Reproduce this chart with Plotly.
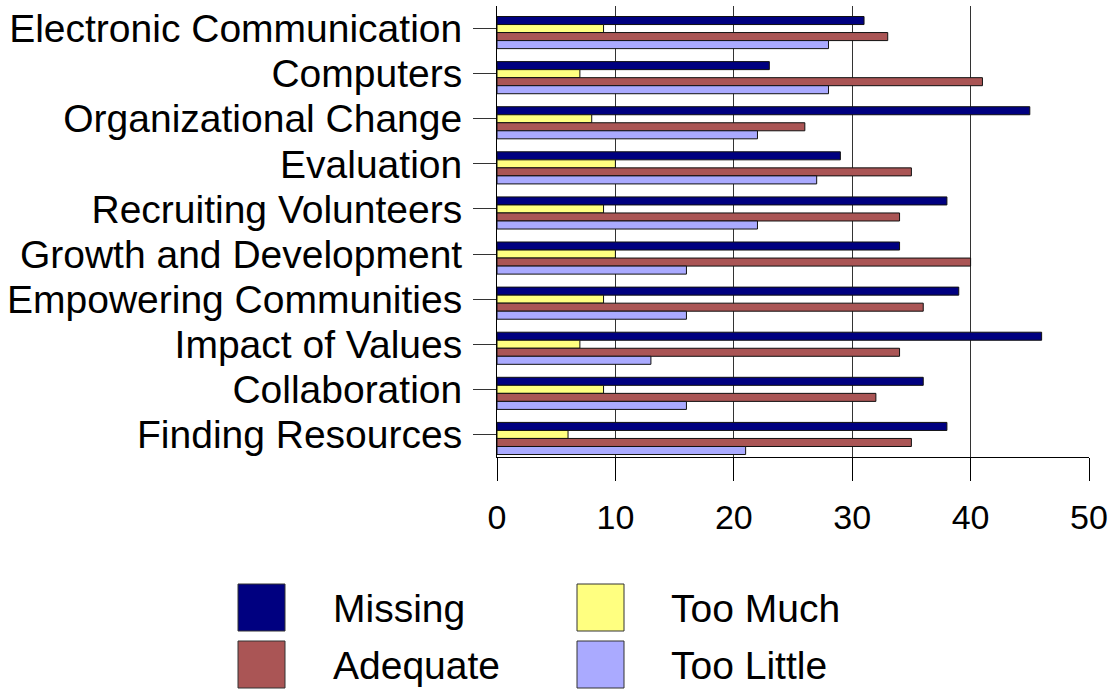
import plotly.graph_objects as go

categories = ["Electronic Communication", "Computers", "Organizational Change", "Evaluation",
              "Recruiting Volunteers", "Growth and Development", "Empowering Communities",
              "Impact of Values", "Collaboration", "Finding Resources"]
missing = [31, 23, 45, 29, 38, 34, 39, 46, 36, 38]
too_much = [9, 7, 8, 10, 9, 10, 9, 7, 9, 6]
adequate = [33, 41, 26, 35, 34, 40, 36, 34, 32, 35]
too_little = [28, 28, 22, 27, 22, 16, 16, 13, 16, 21]
x_ticks = [0, 10, 20, 30, 40, 50]

series = [("Missing", missing, "#000080"),
          ("Too Much", too_much, "#FFFF80"),
          ("Adequate", adequate, "#AA5555"),
          ("Too Little", too_little, "#AAAAFF")]

W, H = 1113, 689
L, R, T, B = 497, 1089, 6, 457
FONT = "Liberation Sans, Arial, sans-serif"

fig = go.Figure()
bw = 0.178
offsets = [-0.267, -0.089, 0.089, 0.267]
for (name, vals, col), off in zip(series, offsets):
    fig.add_trace(go.Bar(y=categories, x=vals, orientation="h", name=name,
                         marker=dict(color=col, line=dict(color="#111111", width=1)),
                         width=bw, offset=off, showlegend=False, hoverinfo="skip"))

def px_x(p):
    return (p - L) / (R - L)

def px_y(p):
    return (B - p) / (B - T)

shapes = []
annotations = []
legend_items = [("Missing", "#000080", 238, 584, 331),
                ("Too Much", "#FFFF80", 577, 584, 669),
                ("Adequate", "#AA5555", 238, 641, 331),
                ("Too Little", "#AAAAFF", 577, 641, 669)]
for name, col, sx, sy, tx in legend_items:
    shapes.append(dict(type="rect", xref="paper", yref="paper",
                       x0=px_x(sx), x1=px_x(sx + 47), y0=px_y(sy + 47), y1=px_y(sy),
                       fillcolor=col, line=dict(color="#333333", width=1)))
    annotations.append(dict(xref="paper", yref="paper", x=px_x(tx), y=px_y(sy + 24),
                            xanchor="left", yanchor="middle", text=name, showarrow=False,
                            font=dict(family=FONT, size=39, color="black")))

fig.update_layout(
    width=W, height=H,
    margin=dict(l=L, r=W - R, t=T, b=H - B, pad=0),
    paper_bgcolor="white", plot_bgcolor="white",
    barmode="overlay",
    font=dict(family=FONT, size=36, color="black"),
    shapes=shapes, annotations=annotations,
    xaxis=dict(range=[0, 50], tickvals=x_ticks, ticktext=[str(v) for v in x_ticks],
               showgrid=True, gridcolor="#333333", gridwidth=1,
               showline=True, linecolor="black", linewidth=1,
               ticks="outside", ticklen=23, tickcolor="black", tickwidth=1,
               ticklabelstandoff=7, zeroline=False,
               tickfont=dict(family=FONT, size=34, color="black")),
    yaxis=dict(autorange="reversed", type="category",
               tickmode="array", tickvals=categories, ticktext=categories,
               showline=True, linecolor="black", linewidth=1,
               ticks="outside", ticklen=23, tickcolor="#333333", tickwidth=1,
               ticklabelstandoff=3, showgrid=False,
               tickfont=dict(family=FONT, size=39, color="black")),
)

fig.write_html("out.html", config={"displayModeBar": False, "staticPlot": True},
               post_script="document.body.style.margin='0';document.body.style.padding='0';document.body.style.overflow='hidden';")
